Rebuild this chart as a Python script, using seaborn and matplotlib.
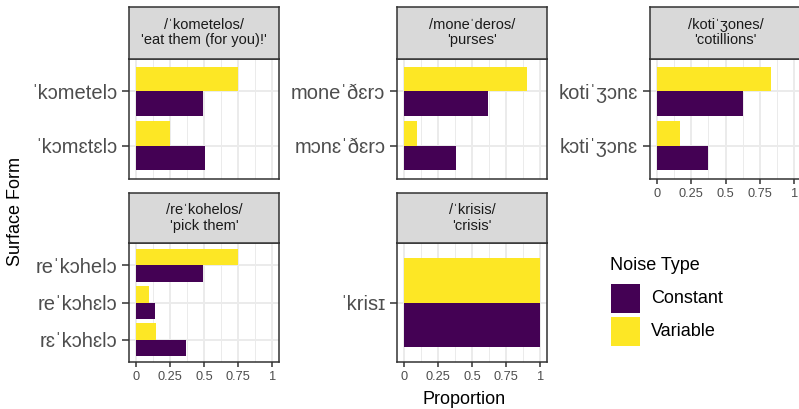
import matplotlib
matplotlib.use("Agg")
import matplotlib.pyplot as plt
from matplotlib.patches import Rectangle
import seaborn as sns
import pandas as pd

# ---------------- data ----------------
words = [
    "/ˈkometelos/\n'eat them (for you)!'",
    "/moneˈderos/\n'purses'",
    "/kotiˈʒones/\n'cotillions'",
    "/reˈkohelos/\n'pick them'",
    "/ˈkrisis/\n'crisis'",
]
forms_kometelos = ["ˈkɔmetelɔ", "ˈkɔmɛtɛlɔ"]
constant_kometelos = [0.49, 0.51]
variable_kometelos = [0.75, 0.25]

forms_monederos = ["moneˈðɛrɔ", "mɔnɛˈðɛrɔ"]
constant_monederos = [0.62, 0.38]
variable_monederos = [0.90, 0.10]

forms_kotizones = ["kotiˈʒɔnɛ", "kɔtiˈʒɔnɛ"]
constant_kotizones = [0.625, 0.375]
variable_kotizones = [0.83, 0.17]

forms_rekohelos = ["reˈkɔhelɔ", "reˈkɔhɛlɔ", "rɛˈkɔhɛlɔ"]
constant_rekohelos = [0.49, 0.14, 0.37]
variable_rekohelos = [0.75, 0.10, 0.15]

forms_krisis = ["ˈkrisɪ"]
constant_krisis = [1.0]
variable_krisis = [1.0]

noise_types = ["Constant", "Variable"]
x_ticks = [0, 0.25, 0.5, 0.75, 1]
x_ticklabels = ["0", "0.25", "0.5", "0.75", "1"]

panel_forms = [forms_kometelos, forms_monederos, forms_kotizones, forms_rekohelos, forms_krisis]
panel_const = [constant_kometelos, constant_monederos, constant_kotizones, constant_rekohelos, constant_krisis]
panel_var = [variable_kometelos, variable_monederos, variable_kotizones, variable_rekohelos, variable_krisis]

rows = []
for w, fs, cs, vs in zip(words, panel_forms, panel_const, panel_var):
    for f, c, v in zip(fs, cs, vs):
        rows.append({"Word": w, "Form": f, "Noise": "Constant", "Proportion": c})
        rows.append({"Word": w, "Form": f, "Noise": "Variable", "Proportion": v})
df = pd.DataFrame(rows)

# ---------------- style ----------------
plt.rcParams["font.family"] = ["Liberation Sans", "DejaVu Sans"]
palette = {"Constant": "#440154", "Variable": "#FDE725"}
W, H = 799, 409
fig = plt.figure(figsize=(W / 100, H / 100), dpi=100)
fig.patch.set_facecolor("white")


def rect(x0, y0, x1, y1):
    return [x0 / W, 1 - y1 / H, (x1 - x0) / W, (y1 - y0) / H]


layout = [
    # (panel x0, x1, strip y0, strip y1, panel y1, show x axis)
    (129, 279, 7, 58.5, 178.5, False),
    (397, 547, 7, 58.5, 178.5, False),
    (650, 801, 7, 58.5, 178.5, True),
    (129, 279, 193, 243, 362, True),
    (397, 547, 193, 243, 362, True),
]
border = "#333333"
grid_c = "#EBEBEB"
minor_ticks = [0.125, 0.375, 0.625, 0.875]

for i, (x0, x1, sy0, sy1, py1, showx) in enumerate(layout):
    ax = fig.add_axes(rect(x0, sy1, x1, py1))
    sub = df[df["Word"] == words[i]]
    sns.barplot(data=sub, x="Proportion", y="Form", hue="Noise",
                hue_order=["Variable", "Constant"], order=panel_forms[i],
                palette=palette, width=0.9, orient="h", saturation=1,
                errorbar=None, linewidth=0, legend=False, ax=ax)
    n = len(panel_forms[i])
    ax.set_ylim(n - 1 + 0.6, -0.6)
    ax.set_xlim(-0.05, 1.05)
    ax.set_xlabel("")
    ax.set_ylabel("")
    ax.set_facecolor("white")
    ax.set_xticks(x_ticks)
    ax.set_xticks(minor_ticks, minor=True)
    ax.set_axisbelow(True)
    ax.grid(which="major", axis="both", color=grid_c, lw=1.4)
    ax.grid(which="minor", axis="x", color=grid_c, lw=0.7)
    for s in ax.spines.values():
        s.set_color(border)
        s.set_linewidth(1.1)
    ax.tick_params(axis="y", length=5, width=1.1, color=border, pad=3.5,
                   labelsize=14.5, labelcolor="#4D4D4D")
    ax.tick_params(axis="x", which="minor", length=0)
    if showx:
        ax.set_xticklabels(x_ticklabels)
        ax.tick_params(axis="x", which="major", length=3.6, width=1.1, color=border,
                       pad=3, labelsize=9.2, labelcolor="#4D4D4D")
    else:
        ax.tick_params(axis="x", which="major", length=0, labelbottom=False)

    sax = fig.add_axes(rect(x0, sy0, x1, sy1))
    sax.set_facecolor("#D9D9D9")
    sax.set_xticks([])
    sax.set_yticks([])
    for s in sax.spines.values():
        s.set_color(border)
        s.set_linewidth(1.1)
    sax.text(0.5, 0.5, words[i], ha="center", va="center", fontsize=10.5,
             color="#1A1A1A", linespacing=1.12, transform=sax.transAxes)

# axis titles
fig.text(15 / W, 1 - 211 / H, "Surface Form", rotation=90, ha="center", va="center",
         fontsize=13, color="black")
fig.text(464.5 / W, 1 - 400 / H, "Proportion", ha="center", va="center",
         fontsize=13, color="black")

# legend
fig.text(610 / W, 1 - 266 / H, "Noise Type", ha="left", va="center", fontsize=13)
for k, nt in enumerate(noise_types):
    top = 284 + 33 * k
    fig.add_artist(Rectangle((611 / W, 1 - (top + 29) / H), 29 / W, 29 / H,
                             transform=fig.transFigure, facecolor=palette[nt],
                             edgecolor="none"))
    fig.text(651 / W, 1 - (top + 14.5) / H, nt, ha="left", va="center", fontsize=13)

fig.savefig("out.png", dpi=100)
